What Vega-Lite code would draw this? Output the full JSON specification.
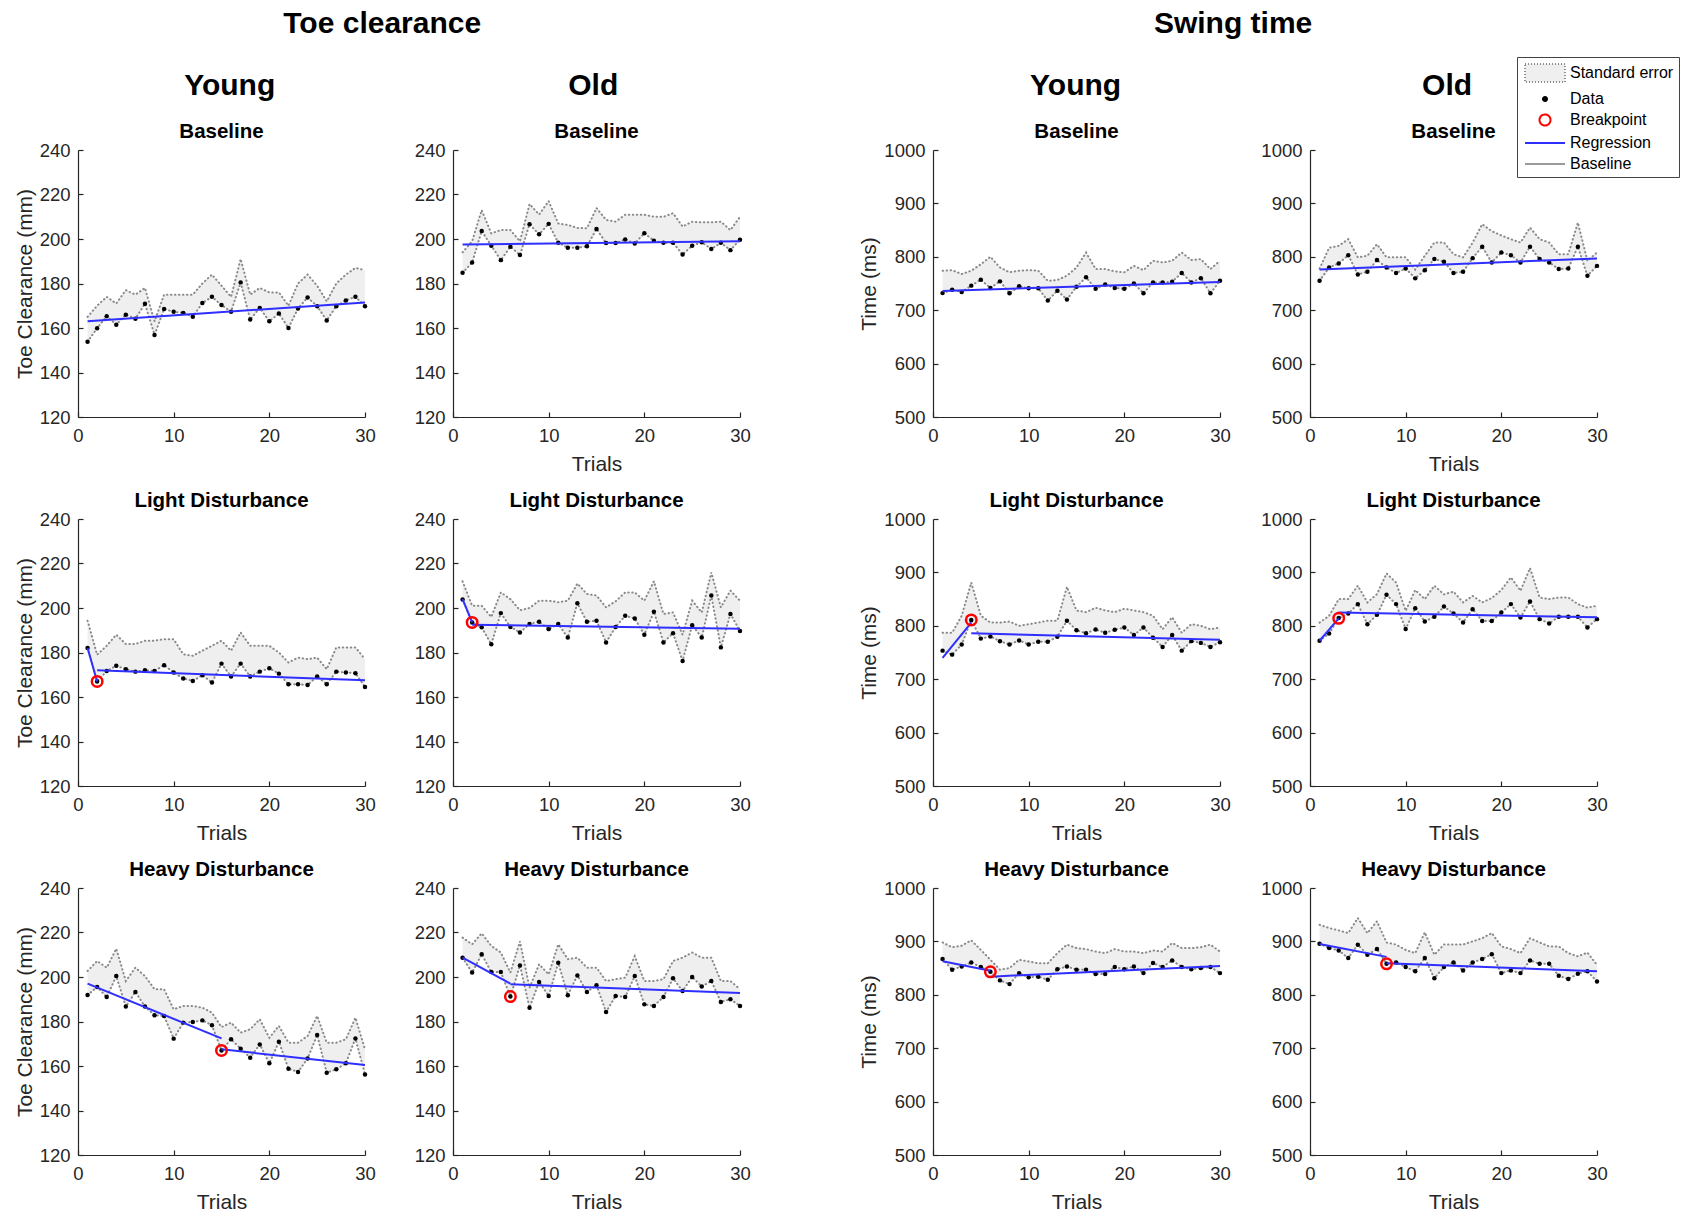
{
"$schema": "https://vega.github.io/schema/vega-lite/v6.json",
"padding": {"left": 14, "top": 8, "right": 0, "bottom": 0},
"background": "white",
"config": {
  "font": "Liberation Sans",
  "view": {"stroke": null},
  "axis": {"grid": false, "domainColor": "#262626", "domainWidth": 1.2, "tickColor": "#262626", "tickWidth": 1.2, "tickSize": -5, "labelColor": "#262626", "labelFontSize": 18.5, "labelFont": "Liberation Sans", "titleFont": "Liberation Sans", "titleFontSize": 21, "titleFontWeight": "normal", "titleColor": "#262626", "labelFlush": false, "labelOverlap": false},
  "axisX": {"labelPadding": 14, "titlePadding": 9},
  "axisY": {"labelPadding": 13, "titlePadding": 4},
  "title": {"font": "Liberation Sans", "fontSize": 20.5, "fontWeight": "bold", "color": "#000000", "offset": -1, "frame": "group", "anchor": "middle"}
},
"datasets": {
"obs": [
{"p":"TYB","t":1,"v":153.8,"u":165},{"p":"TYB","t":2,"v":159.9,"u":170},{"p":"TYB","t":3,"v":165.3,"u":174},{"p":"TYB","t":4,"v":161.5,"u":171},{"p":"TYB","t":5,"v":166,"u":177},{"p":"TYB","t":6,"v":164.2,"u":175},{"p":"TYB","t":7,"v":170.9,"u":178},{"p":"TYB","t":8,"v":156.9,"u":163},{"p":"TYB","t":9,"v":168.5,"u":175},{"p":"TYB","t":10,"v":167.3,"u":175},{"p":"TYB","t":11,"v":166.8,"u":175},{"p":"TYB","t":12,"v":165.1,"u":175},{"p":"TYB","t":13,"v":171.2,"u":180},{"p":"TYB","t":14,"v":174,"u":184},{"p":"TYB","t":15,"v":170.3,"u":179},{"p":"TYB","t":16,"v":167.3,"u":174},{"p":"TYB","t":17,"v":180.5,"u":191},{"p":"TYB","t":18,"v":163.8,"u":175},{"p":"TYB","t":19,"v":169,"u":178},{"p":"TYB","t":20,"v":163,"u":176},{"p":"TYB","t":21,"v":166.5,"u":176},{"p":"TYB","t":22,"v":160,"u":170},{"p":"TYB","t":23,"v":168.8,"u":180},{"p":"TYB","t":24,"v":173.7,"u":184},{"p":"TYB","t":25,"v":169.8,"u":179},{"p":"TYB","t":26,"v":163.4,"u":172},{"p":"TYB","t":27,"v":169.8,"u":180},{"p":"TYB","t":28,"v":172.4,"u":184},{"p":"TYB","t":29,"v":174,"u":187},{"p":"TYB","t":30,"v":169.8,"u":186},
{"p":"TOB","t":1,"v":184.8,"u":194},{"p":"TOB","t":2,"v":189.4,"u":199},{"p":"TOB","t":3,"v":203.6,"u":213},{"p":"TOB","t":4,"v":197,"u":202.5},{"p":"TOB","t":5,"v":190.5,"u":204},{"p":"TOB","t":6,"v":196.5,"u":204},{"p":"TOB","t":7,"v":192.8,"u":199},{"p":"TOB","t":8,"v":206.6,"u":215.7},{"p":"TOB","t":9,"v":202.1,"u":211},{"p":"TOB","t":10,"v":206.8,"u":217},{"p":"TOB","t":11,"v":198.3,"u":207},{"p":"TOB","t":12,"v":196.1,"u":206.3},{"p":"TOB","t":13,"v":196.1,"u":205},{"p":"TOB","t":14,"v":196.7,"u":204.8},{"p":"TOB","t":15,"v":204.5,"u":213.9},{"p":"TOB","t":16,"v":198.2,"u":208.6},{"p":"TOB","t":17,"v":198.2,"u":207.8},{"p":"TOB","t":18,"v":199.8,"u":210.9},{"p":"TOB","t":19,"v":198,"u":210.9},{"p":"TOB","t":20,"v":202.6,"u":210.9},{"p":"TOB","t":21,"v":199.2,"u":210},{"p":"TOB","t":22,"v":198.3,"u":210},{"p":"TOB","t":23,"v":198.3,"u":211.6},{"p":"TOB","t":24,"v":193,"u":205.6},{"p":"TOB","t":25,"v":197,"u":207.8},{"p":"TOB","t":26,"v":198.5,"u":207.5},{"p":"TOB","t":27,"v":195.5,"u":207.5},{"p":"TOB","t":28,"v":198.3,"u":207.8},{"p":"TOB","t":29,"v":195,"u":204},{"p":"TOB","t":30,"v":199.7,"u":210},
{"p":"TYL","t":1,"v":182,"u":194.3},{"p":"TYL","t":2,"v":167,"u":179},{"p":"TYL","t":3,"v":171.7,"u":183},{"p":"TYL","t":4,"v":174,"u":188},{"p":"TYL","t":5,"v":172.5,"u":183.8},{"p":"TYL","t":6,"v":171.4,"u":183.8},{"p":"TYL","t":7,"v":172,"u":185.3},{"p":"TYL","t":8,"v":171.7,"u":185.3},{"p":"TYL","t":9,"v":174.3,"u":186},{"p":"TYL","t":10,"v":171,"u":186},{"p":"TYL","t":11,"v":168.3,"u":179.2},{"p":"TYL","t":12,"v":167.2,"u":178.5},{"p":"TYL","t":13,"v":169.8,"u":180.8},{"p":"TYL","t":14,"v":166.5,"u":183},{"p":"TYL","t":15,"v":175,"u":185.3},{"p":"TYL","t":16,"v":169.2,"u":180.8},{"p":"TYL","t":17,"v":175,"u":189},{"p":"TYL","t":18,"v":169.2,"u":183},{"p":"TYL","t":19,"v":171.4,"u":183},{"p":"TYL","t":20,"v":172.9,"u":183},{"p":"TYL","t":21,"v":170.5,"u":180},{"p":"TYL","t":22,"v":165.7,"u":175.5},{"p":"TYL","t":23,"v":165.7,"u":177.7},{"p":"TYL","t":24,"v":165.4,"u":177},{"p":"TYL","t":25,"v":169.2,"u":177.7},{"p":"TYL","t":26,"v":165.7,"u":172.5},{"p":"TYL","t":27,"v":171.4,"u":182.3},{"p":"TYL","t":28,"v":171,"u":182.3},{"p":"TYL","t":29,"v":170.7,"u":182.3},{"p":"TYL","t":30,"v":164.5,"u":177},
{"p":"TOL","t":1,"v":203.8,"u":212},{"p":"TOL","t":2,"v":193.5,"u":201},{"p":"TOL","t":3,"v":191.3,"u":201},{"p":"TOL","t":4,"v":183.7,"u":196},{"p":"TOL","t":5,"v":197.7,"u":207},{"p":"TOL","t":6,"v":191.5,"u":204},{"p":"TOL","t":7,"v":189,"u":199},{"p":"TOL","t":8,"v":192.8,"u":200},{"p":"TOL","t":9,"v":193.8,"u":203.3},{"p":"TOL","t":10,"v":190.5,"u":203.3},{"p":"TOL","t":11,"v":192.8,"u":202.6},{"p":"TOL","t":12,"v":186.7,"u":203.3},{"p":"TOL","t":13,"v":202.1,"u":211},{"p":"TOL","t":14,"v":193.8,"u":206.3},{"p":"TOL","t":15,"v":194.3,"u":205.6},{"p":"TOL","t":16,"v":184.5,"u":200.3},{"p":"TOL","t":17,"v":191.5,"u":203},{"p":"TOL","t":18,"v":196.5,"u":207},{"p":"TOL","t":19,"v":195.3,"u":207},{"p":"TOL","t":20,"v":188,"u":203.3},{"p":"TOL","t":21,"v":198.3,"u":212},{"p":"TOL","t":22,"v":184.5,"u":197.3},{"p":"TOL","t":23,"v":188.7,"u":198},{"p":"TOL","t":24,"v":176.2,"u":188},{"p":"TOL","t":25,"v":192.3,"u":203.3},{"p":"TOL","t":26,"v":186.7,"u":198},{"p":"TOL","t":27,"v":205.6,"u":216},{"p":"TOL","t":28,"v":182.3,"u":200.3},{"p":"TOL","t":29,"v":197.3,"u":207.8},{"p":"TOL","t":30,"v":189.7,"u":203.3},
{"p":"TYH","t":1,"v":191.9,"u":202.7},{"p":"TYH","t":2,"v":195.5,"u":207.2},{"p":"TYH","t":3,"v":191,"u":204.2},{"p":"TYH","t":4,"v":200.4,"u":212.7},{"p":"TYH","t":5,"v":186.7,"u":198.2},{"p":"TYH","t":6,"v":193.3,"u":204.2},{"p":"TYH","t":7,"v":186.7,"u":200.4},{"p":"TYH","t":8,"v":182.8,"u":194.5},{"p":"TYH","t":9,"v":182.5,"u":194.5},{"p":"TYH","t":10,"v":172.3,"u":185.5},{"p":"TYH","t":11,"v":179.5,"u":187},{"p":"TYH","t":12,"v":179.8,"u":187},{"p":"TYH","t":13,"v":180.5,"u":186.2},{"p":"TYH","t":14,"v":178.3,"u":184},{"p":"TYH","t":15,"v":167,"u":177.5},{"p":"TYH","t":16,"v":172,"u":179.5},{"p":"TYH","t":17,"v":167.8,"u":175},{"p":"TYH","t":18,"v":163.7,"u":176.5},{"p":"TYH","t":19,"v":169.7,"u":181},{"p":"TYH","t":20,"v":161.2,"u":172.7},{"p":"TYH","t":21,"v":170.9,"u":178},{"p":"TYH","t":22,"v":158.8,"u":170.5},{"p":"TYH","t":23,"v":157.3,"u":170.5},{"p":"TYH","t":24,"v":163.4,"u":173.5},{"p":"TYH","t":25,"v":173.9,"u":182.5},{"p":"TYH","t":26,"v":157,"u":170.5},{"p":"TYH","t":27,"v":158.5,"u":170.5},{"p":"TYH","t":28,"v":161.2,"u":172},{"p":"TYH","t":29,"v":172.4,"u":181.7},{"p":"TYH","t":30,"v":156.2,"u":167.5},
{"p":"TOH","t":1,"v":208.7,"u":217.7},{"p":"TOH","t":2,"v":202,"u":214.7},{"p":"TOH","t":3,"v":210.2,"u":219.6},{"p":"TOH","t":4,"v":202.2,"u":214},{"p":"TOH","t":5,"v":202.2,"u":211},{"p":"TOH","t":6,"v":191.2,"u":202},{"p":"TOH","t":7,"v":205.2,"u":216},{"p":"TOH","t":8,"v":186.2,"u":195.2},{"p":"TOH","t":9,"v":197.8,"u":205.7},{"p":"TOH","t":10,"v":191.5,"u":201.2},{"p":"TOH","t":11,"v":206.4,"u":214.7},{"p":"TOH","t":12,"v":191.8,"u":208},{"p":"TOH","t":13,"v":200.7,"u":208.7},{"p":"TOH","t":14,"v":193.3,"u":204.2},{"p":"TOH","t":15,"v":196.3,"u":204.2},{"p":"TOH","t":16,"v":184.3,"u":198.2},{"p":"TOH","t":17,"v":191.5,"u":199},{"p":"TOH","t":18,"v":191,"u":199.7},{"p":"TOH","t":19,"v":200.4,"u":209.4},{"p":"TOH","t":20,"v":187.7,"u":198.2},{"p":"TOH","t":21,"v":187,"u":198.2},{"p":"TOH","t":22,"v":191,"u":199},{"p":"TOH","t":23,"v":199.4,"u":207.2},{"p":"TOH","t":24,"v":193.7,"u":208.7},{"p":"TOH","t":25,"v":200,"u":211},{"p":"TOH","t":26,"v":195.7,"u":208.7},{"p":"TOH","t":27,"v":198.2,"u":208.7},{"p":"TOH","t":28,"v":188.8,"u":198.2},{"p":"TOH","t":29,"v":190,"u":198.2},{"p":"TOH","t":30,"v":187,"u":194.5},
{"p":"SYB","t":1,"v":732,"u":774},{"p":"SYB","t":2,"v":738.5,"u":775},{"p":"SYB","t":3,"v":734,"u":767.7},{"p":"SYB","t":4,"v":746,"u":774},{"p":"SYB","t":5,"v":757,"u":786},{"p":"SYB","t":6,"v":741.6,"u":800},{"p":"SYB","t":7,"v":754,"u":780},{"p":"SYB","t":8,"v":731.7,"u":771},{"p":"SYB","t":9,"v":744.7,"u":774},{"p":"SYB","t":10,"v":741,"u":775},{"p":"SYB","t":11,"v":741,"u":774},{"p":"SYB","t":12,"v":718,"u":755},{"p":"SYB","t":13,"v":736.6,"u":756.5},{"p":"SYB","t":14,"v":720,"u":764.6},{"p":"SYB","t":15,"v":744,"u":780},{"p":"SYB","t":16,"v":761.5,"u":808},{"p":"SYB","t":17,"v":740,"u":777},{"p":"SYB","t":18,"v":748,"u":777},{"p":"SYB","t":19,"v":741.6,"u":772.7},{"p":"SYB","t":20,"v":740,"u":771},{"p":"SYB","t":21,"v":750,"u":783},{"p":"SYB","t":22,"v":731.7,"u":775},{"p":"SYB","t":23,"v":752,"u":792.5},{"p":"SYB","t":24,"v":752,"u":789.4},{"p":"SYB","t":25,"v":753.4,"u":792.5},{"p":"SYB","t":26,"v":769.6,"u":808},{"p":"SYB","t":27,"v":752,"u":793.8},{"p":"SYB","t":28,"v":760,"u":795.7},{"p":"SYB","t":29,"v":731.7,"u":777},{"p":"SYB","t":30,"v":755,"u":792.5},
{"p":"SOB","t":1,"v":755,"u":778},{"p":"SOB","t":2,"v":780,"u":817},{"p":"SOB","t":3,"v":787.6,"u":820.5},{"p":"SOB","t":4,"v":803,"u":833},{"p":"SOB","t":5,"v":767,"u":799},{"p":"SOB","t":6,"v":772,"u":802},{"p":"SOB","t":7,"v":793.8,"u":823.6},{"p":"SOB","t":8,"v":780,"u":799},{"p":"SOB","t":9,"v":769.6,"u":799},{"p":"SOB","t":10,"v":778,"u":799},{"p":"SOB","t":11,"v":759.6,"u":776},{"p":"SOB","t":12,"v":775,"u":802},{"p":"SOB","t":13,"v":795.7,"u":826.7},{"p":"SOB","t":14,"v":790.7,"u":826.7},{"p":"SOB","t":15,"v":769.6,"u":805},{"p":"SOB","t":16,"v":772,"u":799},{"p":"SOB","t":17,"v":797.5,"u":826.7},{"p":"SOB","t":18,"v":819,"u":861},{"p":"SOB","t":19,"v":789.4,"u":848},{"p":"SOB","t":20,"v":808,"u":840},{"p":"SOB","t":21,"v":803,"u":833},{"p":"SOB","t":22,"v":789.4,"u":826.7},{"p":"SOB","t":23,"v":819,"u":854.7},{"p":"SOB","t":24,"v":795.7,"u":833},{"p":"SOB","t":25,"v":789.4,"u":826.7},{"p":"SOB","t":26,"v":777,"u":805},{"p":"SOB","t":27,"v":778,"u":805},{"p":"SOB","t":28,"v":819,"u":864},{"p":"SOB","t":29,"v":764.6,"u":792.5},{"p":"SOB","t":30,"v":783,"u":808},
{"p":"SYL","t":1,"v":753.5,"u":787},{"p":"SYL","t":2,"v":746,"u":787},{"p":"SYL","t":3,"v":765,"u":819},{"p":"SYL","t":4,"v":811,"u":881},{"p":"SYL","t":5,"v":776,"u":819},{"p":"SYL","t":6,"v":780,"u":806},{"p":"SYL","t":7,"v":771,"u":806},{"p":"SYL","t":8,"v":765,"u":808},{"p":"SYL","t":9,"v":772.6,"u":800},{"p":"SYL","t":10,"v":765,"u":803},{"p":"SYL","t":11,"v":770,"u":806},{"p":"SYL","t":12,"v":770,"u":809.6},{"p":"SYL","t":13,"v":779.6,"u":809.6},{"p":"SYL","t":14,"v":809.6,"u":873},{"p":"SYL","t":15,"v":791.7,"u":828.7},{"p":"SYL","t":16,"v":786,"u":825.5},{"p":"SYL","t":17,"v":793,"u":833.8},{"p":"SYL","t":18,"v":787,"u":828.7},{"p":"SYL","t":19,"v":792.4,"u":825.5},{"p":"SYL","t":20,"v":796.8,"u":832},{"p":"SYL","t":21,"v":782.8,"u":828.7},{"p":"SYL","t":22,"v":796.8,"u":825.5},{"p":"SYL","t":23,"v":777.7,"u":819},{"p":"SYL","t":24,"v":760.5,"u":793.6},{"p":"SYL","t":25,"v":782.8,"u":816},{"p":"SYL","t":26,"v":753.5,"u":787},{"p":"SYL","t":27,"v":771.3,"u":803},{"p":"SYL","t":28,"v":768,"u":800},{"p":"SYL","t":29,"v":760.5,"u":793.6},{"p":"SYL","t":30,"v":769.4,"u":796.8},
{"p":"SOL","t":1,"v":772,"u":806},{"p":"SOL","t":2,"v":785.6,"u":818.8},{"p":"SOL","t":3,"v":814.4,"u":850},{"p":"SOL","t":4,"v":823,"u":850},{"p":"SOL","t":5,"v":840.6,"u":875},{"p":"SOL","t":6,"v":803,"u":843.8},{"p":"SOL","t":7,"v":820.6,"u":859.4},{"p":"SOL","t":8,"v":858,"u":898},{"p":"SOL","t":9,"v":840.6,"u":881},{"p":"SOL","t":10,"v":793.8,"u":828},{"p":"SOL","t":11,"v":833,"u":867},{"p":"SOL","t":12,"v":808,"u":850},{"p":"SOL","t":13,"v":817,"u":875},{"p":"SOL","t":14,"v":836,"u":859},{"p":"SOL","t":15,"v":823,"u":864},{"p":"SOL","t":16,"v":806,"u":843.8},{"p":"SOL","t":17,"v":831,"u":856},{"p":"SOL","t":18,"v":809,"u":843.8},{"p":"SOL","t":19,"v":809,"u":852},{"p":"SOL","t":20,"v":825,"u":867},{"p":"SOL","t":21,"v":840.6,"u":890.6},{"p":"SOL","t":22,"v":815.6,"u":865.6},{"p":"SOL","t":23,"v":845.6,"u":908},{"p":"SOL","t":24,"v":812.5,"u":853},{"p":"SOL","t":25,"v":804.4,"u":850},{"p":"SOL","t":26,"v":817,"u":853},{"p":"SOL","t":27,"v":817,"u":853},{"p":"SOL","t":28,"v":817,"u":840.6},{"p":"SOL","t":29,"v":797,"u":834},{"p":"SOL","t":30,"v":812.5,"u":837.5},
{"p":"SYH","t":1,"v":867,"u":898},{"p":"SYH","t":2,"v":847,"u":889},{"p":"SYH","t":3,"v":853,"u":892},{"p":"SYH","t":4,"v":860.6,"u":902},{"p":"SYH","t":5,"v":852,"u":884},{"p":"SYH","t":6,"v":843,"u":865.6},{"p":"SYH","t":7,"v":827,"u":847},{"p":"SYH","t":8,"v":820,"u":850},{"p":"SYH","t":9,"v":840.6,"u":865.6},{"p":"SYH","t":10,"v":833,"u":862.5},{"p":"SYH","t":11,"v":834,"u":859},{"p":"SYH","t":12,"v":828,"u":859},{"p":"SYH","t":13,"v":848,"u":878},{"p":"SYH","t":14,"v":853,"u":894},{"p":"SYH","t":15,"v":847,"u":887.5},{"p":"SYH","t":16,"v":847,"u":885.6},{"p":"SYH","t":17,"v":839,"u":881},{"p":"SYH","t":18,"v":839,"u":878},{"p":"SYH","t":19,"v":852,"u":885.6},{"p":"SYH","t":20,"v":848,"u":881},{"p":"SYH","t":21,"v":853,"u":881},{"p":"SYH","t":22,"v":840.6,"u":878},{"p":"SYH","t":23,"v":859.4,"u":883},{"p":"SYH","t":24,"v":852,"u":881},{"p":"SYH","t":25,"v":864.4,"u":897},{"p":"SYH","t":26,"v":852,"u":887.5},{"p":"SYH","t":27,"v":848,"u":887.5},{"p":"SYH","t":28,"v":850,"u":889},{"p":"SYH","t":29,"v":852,"u":894},{"p":"SYH","t":30,"v":840.6,"u":881},
{"p":"SOH","t":1,"v":895.6,"u":931},{"p":"SOH","t":2,"v":887.5,"u":925},{"p":"SOH","t":3,"v":883,"u":920.6},{"p":"SOH","t":4,"v":868.8,"u":915.6},{"p":"SOH","t":5,"v":893.8,"u":943.8},{"p":"SOH","t":6,"v":875,"u":915.6},{"p":"SOH","t":7,"v":885.6,"u":937.5},{"p":"SOH","t":8,"v":858,"u":898},{"p":"SOH","t":9,"v":860.6,"u":894},{"p":"SOH","t":10,"v":852,"u":884},{"p":"SOH","t":11,"v":844,"u":878},{"p":"SOH","t":12,"v":868.8,"u":917},{"p":"SOH","t":13,"v":831,"u":875},{"p":"SOH","t":14,"v":852,"u":894},{"p":"SOH","t":15,"v":860.6,"u":894},{"p":"SOH","t":16,"v":845.6,"u":894},{"p":"SOH","t":17,"v":860.6,"u":900},{"p":"SOH","t":18,"v":867,"u":906},{"p":"SOH","t":19,"v":876,"u":915.6},{"p":"SOH","t":20,"v":840.6,"u":890.6},{"p":"SOH","t":21,"v":845.6,"u":885.6},{"p":"SOH","t":22,"v":840.6,"u":878},{"p":"SOH","t":23,"v":864.4,"u":906},{"p":"SOH","t":24,"v":858,"u":898},{"p":"SOH","t":25,"v":858,"u":890.6},{"p":"SOH","t":26,"v":835.6,"u":890.6},{"p":"SOH","t":27,"v":829.4,"u":878},{"p":"SOH","t":28,"v":839.4,"u":872},{"p":"SOH","t":29,"v":844,"u":879},{"p":"SOH","t":30,"v":825,"u":856}
],
"reg": [
{"p":"TYB","s":"a","t":1,"v":163},{"p":"TYB","s":"a","t":30,"v":171.5},
{"p":"TOB","s":"a","t":1,"v":197.5},{"p":"TOB","s":"a","t":30,"v":199},
{"p":"TYL","s":"a","t":1,"v":182},{"p":"TYL","s":"a","t":2,"v":167},{"p":"TYL","s":"b","t":2,"v":172},{"p":"TYL","s":"b","t":30,"v":167.5},
{"p":"TOL","s":"a","t":1,"v":204},{"p":"TOL","s":"a","t":2,"v":193.5},{"p":"TOL","s":"b","t":2,"v":192.5},{"p":"TOL","s":"b","t":30,"v":190.7},
{"p":"TYH","s":"a","t":1,"v":197},{"p":"TYH","s":"a","t":15,"v":172.4},{"p":"TYH","s":"b","t":15,"v":167.5},{"p":"TYH","s":"b","t":30,"v":160.4},
{"p":"TOH","s":"a","t":1,"v":208.7},{"p":"TOH","s":"a","t":6,"v":197},{"p":"TOH","s":"b","t":6,"v":196.7},{"p":"TOH","s":"b","t":30,"v":192.8},
{"p":"SYB","s":"a","t":1,"v":736},{"p":"SYB","s":"a","t":30,"v":753},
{"p":"SOB","s":"a","t":1,"v":776},{"p":"SOB","s":"a","t":30,"v":797},
{"p":"SYL","s":"a","t":1,"v":740},{"p":"SYL","s":"a","t":4,"v":806},{"p":"SYL","s":"b","t":4,"v":786},{"p":"SYL","s":"b","t":30,"v":774},
{"p":"SOL","s":"a","t":1,"v":772},{"p":"SOL","s":"a","t":3,"v":814},{"p":"SOL","s":"b","t":3,"v":825},{"p":"SOL","s":"b","t":30,"v":816},
{"p":"SYH","s":"a","t":1,"v":863},{"p":"SYH","s":"a","t":6,"v":845},{"p":"SYH","s":"b","t":6,"v":834},{"p":"SYH","s":"b","t":30,"v":854},
{"p":"SOH","s":"a","t":1,"v":895},{"p":"SOH","s":"a","t":8,"v":871},{"p":"SOH","s":"b","t":8,"v":859},{"p":"SOH","s":"b","t":30,"v":844}
],
"bp": [
{"p":"TYL","t":2,"v":167},{"p":"TOL","t":2,"v":193.5},{"p":"TYH","t":15,"v":167},{"p":"TOH","t":6,"v":191.2},
{"p":"SYL","t":4,"v":811},{"p":"SOL","t":3,"v":814},{"p":"SYH","t":6,"v":843},{"p":"SOH","t":8,"v":858}
],
"base": [
{"p":"TYB","v":167},{"p":"TOB","v":198},{"p":"TYL","v":167},{"p":"TOL","v":198},{"p":"TYH","v":167},{"p":"TOH","v":198},
{"p":"SYB","v":744},{"p":"SOB","v":786},{"p":"SYL","v":744},{"p":"SOL","v":786},{"p":"SYH","v":744},{"p":"SOH","v":786}
],
"leg": [
{"item":"Standard error","t":-5,"v":600},{"item":"Data","t":-5,"v":600},{"item":"Breakpoint","t":-5,"v":600},{"item":"Regression","t":-5,"v":600},{"item":"Baseline","t":-5,"v":600}
]
},
"spacing": 107,
"hconcat": [
{
"title": {"text": "Toe clearance", "fontSize": 30, "anchor": "middle", "frame": "bounds", "offset": 32},
"spacing": 38,
"hconcat": [
{
"title": {"text": "Young", "fontSize": 30, "anchor": "middle", "frame": "bounds", "offset": 21, "dx": 35},
"spacing": 15,
"vconcat": [
{"width":287,"height":267,"title":{"text":"Baseline"},"data":{"name":"obs"},"transform":[{"filter":"datum.p==='TYB'"}],
"encoding":{"x":{"field":"t","type":"quantitative","scale":{"domain":[0,30]},"axis":{"values":[0,10,20,30],"title":"Trials","titleOpacity":0}},"y":{"field":"v","type":"quantitative","scale":{"domain":[120,240]},"axis":{"values":[120,140,160,180,200,220,240],"title":"Toe Clearance (mm)"}}},
"layer":[
{"mark":{"type":"area","color":"#efefef"},"encoding":{"y2":{"field":"u"}}},
{"mark":{"type":"line","color":"#8a8a8a","strokeWidth":2,"strokeDash":[0.5,3.5],"strokeCap":"round"},"encoding":{"y":{"field":"u","type":"quantitative"}}},
{"mark":{"type":"line","color":"#8a8a8a","strokeWidth":2,"strokeDash":[0.5,3.5],"strokeCap":"round"}},
{"data":{"name":"base"},"transform":[{"filter":"datum.p==='TYB'"}],"mark":{"type":"rule","color":"#9a9a9a","strokeWidth":1.8},"encoding":{"x":{"datum":0},"x2":{"datum":30}}},
{"mark":{"type":"point","filled":true,"color":"#000000","size":20,"opacity":1}},
{"data":{"name":"reg"},"transform":[{"filter":"datum.p==='TYB'"}],"mark":{"type":"line","color":"#2f2fff","strokeWidth":2},"encoding":{"detail":{"field":"s","type":"nominal"}}},
{"data":{"name":"leg"},"mark":{"type":"point","clip":true,"filled":true,"opacity":1,"strokeWidth":2},
"encoding":{
"shape":{"field":"item","type":"nominal","scale":{"domain":["Standard error","Data","Breakpoint","Regression","Baseline"],"range":["M-2,-0.9H2V0.9H-2Z","M-0.2,0A0.2,0.2,0,1,0,0.2,0A0.2,0.2,0,1,0,-0.2,0Z","M-0.55,0A0.55,0.55,0,1,0,0.55,0A0.55,0.55,0,1,0,-0.55,0Z","M-2,0H2","M-2,0H2"]},"legend":{"orient":"none","legendX":1439,"legendY":-93,"title":null,"labelFontSize":16,"labelColor":"#000000","labelFont":"Liberation Sans","strokeColor":"#444444","fillColor":"#ffffff","padding":5,"rowPadding":2,"symbolSize":400,"symbolStrokeWidth":2,"symbolOffset":12,"labelOffset":14}},
"fill":{"field":"item","type":"nominal","scale":{"domain":["Standard error","Data","Breakpoint","Regression","Baseline"],"range":["#efefef","#000000","#ffffff","#ffffff","#ffffff"]},"legend":{"orient":"none","legendX":1439,"legendY":-93,"title":null,"labelFontSize":16,"labelColor":"#000000","labelFont":"Liberation Sans","strokeColor":"#444444","fillColor":"#ffffff","padding":5,"rowPadding":2,"symbolSize":400,"symbolStrokeWidth":2,"symbolOffset":12,"labelOffset":14}},
"stroke":{"field":"item","type":"nominal","scale":{"domain":["Standard error","Data","Breakpoint","Regression","Baseline"],"range":["#8a8a8a","#000000","#ff0000","#2f2fff","#9a9a9a"]},"legend":{"orient":"none","legendX":1439,"legendY":-93,"title":null,"labelFontSize":16,"labelColor":"#000000","labelFont":"Liberation Sans","strokeColor":"#444444","fillColor":"#ffffff","padding":5,"rowPadding":2,"symbolSize":400,"symbolStrokeWidth":2,"symbolOffset":12,"labelOffset":14}},
"strokeDash":{"field":"item","type":"nominal","scale":{"domain":["Standard error","Data","Breakpoint","Regression","Baseline"],"range":[[1,2],[1,0],[1,0],[1,0],[1,0]]},"legend":{"orient":"none","legendX":1439,"legendY":-93,"title":null,"labelFontSize":16,"labelColor":"#000000","labelFont":"Liberation Sans","strokeColor":"#444444","fillColor":"#ffffff","padding":5,"rowPadding":2,"symbolSize":400,"symbolStrokeWidth":2,"symbolOffset":12,"labelOffset":14}}
}}
]},
{"width":287,"height":267,"title":{"text":"Light Disturbance"},"data":{"name":"obs"},"transform":[{"filter":"datum.p==='TYL'"}],
"encoding":{"x":{"field":"t","type":"quantitative","scale":{"domain":[0,30]},"axis":{"values":[0,10,20,30],"title":"Trials"}},"y":{"field":"v","type":"quantitative","scale":{"domain":[120,240]},"axis":{"values":[120,140,160,180,200,220,240],"title":"Toe Clearance (mm)"}}},
"layer":[
{"mark":{"type":"area","color":"#efefef"},"encoding":{"y2":{"field":"u"}}},
{"mark":{"type":"line","color":"#8a8a8a","strokeWidth":2,"strokeDash":[0.5,3.5],"strokeCap":"round"},"encoding":{"y":{"field":"u","type":"quantitative"}}},
{"mark":{"type":"line","color":"#8a8a8a","strokeWidth":2,"strokeDash":[0.5,3.5],"strokeCap":"round"}},
{"data":{"name":"base"},"transform":[{"filter":"datum.p==='TYL'"}],"mark":{"type":"rule","color":"#9a9a9a","strokeWidth":1.8},"encoding":{"x":{"datum":0},"x2":{"datum":30}}},
{"mark":{"type":"point","filled":true,"color":"#000000","size":20,"opacity":1}},
{"data":{"name":"reg"},"transform":[{"filter":"datum.p==='TYL'"}],"mark":{"type":"line","color":"#2f2fff","strokeWidth":2},"encoding":{"detail":{"field":"s","type":"nominal"}}},
{"data":{"name":"bp"},"transform":[{"filter":"datum.p==='TYL'"}],"mark":{"type":"point","shape":"circle","filled":false,"color":"#ff0000","strokeWidth":2.5,"size":110,"opacity":1}}
]},
{"width":287,"height":267,"title":{"text":"Heavy Disturbance"},"data":{"name":"obs"},"transform":[{"filter":"datum.p==='TYH'"}],
"encoding":{"x":{"field":"t","type":"quantitative","scale":{"domain":[0,30]},"axis":{"values":[0,10,20,30],"title":"Trials"}},"y":{"field":"v","type":"quantitative","scale":{"domain":[120,240]},"axis":{"values":[120,140,160,180,200,220,240],"title":"Toe Clearance (mm)"}}},
"layer":[
{"mark":{"type":"area","color":"#efefef"},"encoding":{"y2":{"field":"u"}}},
{"mark":{"type":"line","color":"#8a8a8a","strokeWidth":2,"strokeDash":[0.5,3.5],"strokeCap":"round"},"encoding":{"y":{"field":"u","type":"quantitative"}}},
{"mark":{"type":"line","color":"#8a8a8a","strokeWidth":2,"strokeDash":[0.5,3.5],"strokeCap":"round"}},
{"data":{"name":"base"},"transform":[{"filter":"datum.p==='TYH'"}],"mark":{"type":"rule","color":"#9a9a9a","strokeWidth":1.8},"encoding":{"x":{"datum":0},"x2":{"datum":30}}},
{"mark":{"type":"point","filled":true,"color":"#000000","size":20,"opacity":1}},
{"data":{"name":"reg"},"transform":[{"filter":"datum.p==='TYH'"}],"mark":{"type":"line","color":"#2f2fff","strokeWidth":2},"encoding":{"detail":{"field":"s","type":"nominal"}}},
{"data":{"name":"bp"},"transform":[{"filter":"datum.p==='TYH'"}],"mark":{"type":"point","shape":"circle","filled":false,"color":"#ff0000","strokeWidth":2.5,"size":110,"opacity":1}}
]}
]
},
{
"title": {"text": "Old", "fontSize": 30, "anchor": "middle", "frame": "bounds", "offset": 21, "dx": 11},
"spacing": 15,
"vconcat": [
{"width":287,"height":267,"title":{"text":"Baseline"},"data":{"name":"obs"},"transform":[{"filter":"datum.p==='TOB'"}],
"encoding":{"x":{"field":"t","type":"quantitative","scale":{"domain":[0,30]},"axis":{"values":[0,10,20,30],"title":"Trials"}},"y":{"field":"v","type":"quantitative","scale":{"domain":[120,240]},"axis":{"values":[120,140,160,180,200,220,240],"title":null}}},
"layer":[
{"mark":{"type":"area","color":"#efefef"},"encoding":{"y2":{"field":"u"}}},
{"mark":{"type":"line","color":"#8a8a8a","strokeWidth":2,"strokeDash":[0.5,3.5],"strokeCap":"round"},"encoding":{"y":{"field":"u","type":"quantitative"}}},
{"mark":{"type":"line","color":"#8a8a8a","strokeWidth":2,"strokeDash":[0.5,3.5],"strokeCap":"round"}},
{"data":{"name":"base"},"transform":[{"filter":"datum.p==='TOB'"}],"mark":{"type":"rule","color":"#9a9a9a","strokeWidth":1.8},"encoding":{"x":{"datum":0},"x2":{"datum":30}}},
{"mark":{"type":"point","filled":true,"color":"#000000","size":20,"opacity":1}},
{"data":{"name":"reg"},"transform":[{"filter":"datum.p==='TOB'"}],"mark":{"type":"line","color":"#2f2fff","strokeWidth":2},"encoding":{"detail":{"field":"s","type":"nominal"}}}
]},
{"width":287,"height":267,"title":{"text":"Light Disturbance"},"data":{"name":"obs"},"transform":[{"filter":"datum.p==='TOL'"}],
"encoding":{"x":{"field":"t","type":"quantitative","scale":{"domain":[0,30]},"axis":{"values":[0,10,20,30],"title":"Trials"}},"y":{"field":"v","type":"quantitative","scale":{"domain":[120,240]},"axis":{"values":[120,140,160,180,200,220,240],"title":null}}},
"layer":[
{"mark":{"type":"area","color":"#efefef"},"encoding":{"y2":{"field":"u"}}},
{"mark":{"type":"line","color":"#8a8a8a","strokeWidth":2,"strokeDash":[0.5,3.5],"strokeCap":"round"},"encoding":{"y":{"field":"u","type":"quantitative"}}},
{"mark":{"type":"line","color":"#8a8a8a","strokeWidth":2,"strokeDash":[0.5,3.5],"strokeCap":"round"}},
{"data":{"name":"base"},"transform":[{"filter":"datum.p==='TOL'"}],"mark":{"type":"rule","color":"#9a9a9a","strokeWidth":1.8},"encoding":{"x":{"datum":0},"x2":{"datum":30}}},
{"mark":{"type":"point","filled":true,"color":"#000000","size":20,"opacity":1}},
{"data":{"name":"reg"},"transform":[{"filter":"datum.p==='TOL'"}],"mark":{"type":"line","color":"#2f2fff","strokeWidth":2},"encoding":{"detail":{"field":"s","type":"nominal"}}},
{"data":{"name":"bp"},"transform":[{"filter":"datum.p==='TOL'"}],"mark":{"type":"point","shape":"circle","filled":false,"color":"#ff0000","strokeWidth":2.5,"size":110,"opacity":1}}
]},
{"width":287,"height":267,"title":{"text":"Heavy Disturbance"},"data":{"name":"obs"},"transform":[{"filter":"datum.p==='TOH'"}],
"encoding":{"x":{"field":"t","type":"quantitative","scale":{"domain":[0,30]},"axis":{"values":[0,10,20,30],"title":"Trials"}},"y":{"field":"v","type":"quantitative","scale":{"domain":[120,240]},"axis":{"values":[120,140,160,180,200,220,240],"title":null}}},
"layer":[
{"mark":{"type":"area","color":"#efefef"},"encoding":{"y2":{"field":"u"}}},
{"mark":{"type":"line","color":"#8a8a8a","strokeWidth":2,"strokeDash":[0.5,3.5],"strokeCap":"round"},"encoding":{"y":{"field":"u","type":"quantitative"}}},
{"mark":{"type":"line","color":"#8a8a8a","strokeWidth":2,"strokeDash":[0.5,3.5],"strokeCap":"round"}},
{"data":{"name":"base"},"transform":[{"filter":"datum.p==='TOH'"}],"mark":{"type":"rule","color":"#9a9a9a","strokeWidth":1.8},"encoding":{"x":{"datum":0},"x2":{"datum":30}}},
{"mark":{"type":"point","filled":true,"color":"#000000","size":20,"opacity":1}},
{"data":{"name":"reg"},"transform":[{"filter":"datum.p==='TOH'"}],"mark":{"type":"line","color":"#2f2fff","strokeWidth":2},"encoding":{"detail":{"field":"s","type":"nominal"}}},
{"data":{"name":"bp"},"transform":[{"filter":"datum.p==='TOH'"}],"mark":{"type":"point","shape":"circle","filled":false,"color":"#ff0000","strokeWidth":2.5,"size":110,"opacity":1}}
]}
]
}
]
},
{
"title": {"text": "Swing time", "fontSize": 30, "anchor": "middle", "frame": "bounds", "offset": 32},
"spacing": 29,
"hconcat": [
{
"title": {"text": "Young", "fontSize": 30, "anchor": "middle", "frame": "bounds", "offset": 21, "dx": 31},
"spacing": 15,
"vconcat": [
{"width":287,"height":267,"title":{"text":"Baseline"},"data":{"name":"obs"},"transform":[{"filter":"datum.p==='SYB'"}],
"encoding":{"x":{"field":"t","type":"quantitative","scale":{"domain":[0,30]},"axis":{"values":[0,10,20,30],"title":"Trials","titleOpacity":0}},"y":{"field":"v","type":"quantitative","scale":{"domain":[500,1000]},"axis":{"values":[500,600,700,800,900,1000],"format":"d","title":"Time (ms)"}}},
"layer":[
{"mark":{"type":"area","color":"#efefef"},"encoding":{"y2":{"field":"u"}}},
{"mark":{"type":"line","color":"#8a8a8a","strokeWidth":2,"strokeDash":[0.5,3.5],"strokeCap":"round"},"encoding":{"y":{"field":"u","type":"quantitative"}}},
{"mark":{"type":"line","color":"#8a8a8a","strokeWidth":2,"strokeDash":[0.5,3.5],"strokeCap":"round"}},
{"data":{"name":"base"},"transform":[{"filter":"datum.p==='SYB'"}],"mark":{"type":"rule","color":"#9a9a9a","strokeWidth":1.8},"encoding":{"x":{"datum":0},"x2":{"datum":30}}},
{"mark":{"type":"point","filled":true,"color":"#000000","size":20,"opacity":1}},
{"data":{"name":"reg"},"transform":[{"filter":"datum.p==='SYB'"}],"mark":{"type":"line","color":"#2f2fff","strokeWidth":2},"encoding":{"detail":{"field":"s","type":"nominal"}}}
]},
{"width":287,"height":267,"title":{"text":"Light Disturbance"},"data":{"name":"obs"},"transform":[{"filter":"datum.p==='SYL'"}],
"encoding":{"x":{"field":"t","type":"quantitative","scale":{"domain":[0,30]},"axis":{"values":[0,10,20,30],"title":"Trials"}},"y":{"field":"v","type":"quantitative","scale":{"domain":[500,1000]},"axis":{"values":[500,600,700,800,900,1000],"format":"d","title":"Time (ms)"}}},
"layer":[
{"mark":{"type":"area","color":"#efefef"},"encoding":{"y2":{"field":"u"}}},
{"mark":{"type":"line","color":"#8a8a8a","strokeWidth":2,"strokeDash":[0.5,3.5],"strokeCap":"round"},"encoding":{"y":{"field":"u","type":"quantitative"}}},
{"mark":{"type":"line","color":"#8a8a8a","strokeWidth":2,"strokeDash":[0.5,3.5],"strokeCap":"round"}},
{"data":{"name":"base"},"transform":[{"filter":"datum.p==='SYL'"}],"mark":{"type":"rule","color":"#9a9a9a","strokeWidth":1.8},"encoding":{"x":{"datum":0},"x2":{"datum":30}}},
{"mark":{"type":"point","filled":true,"color":"#000000","size":20,"opacity":1}},
{"data":{"name":"reg"},"transform":[{"filter":"datum.p==='SYL'"}],"mark":{"type":"line","color":"#2f2fff","strokeWidth":2},"encoding":{"detail":{"field":"s","type":"nominal"}}},
{"data":{"name":"bp"},"transform":[{"filter":"datum.p==='SYL'"}],"mark":{"type":"point","shape":"circle","filled":false,"color":"#ff0000","strokeWidth":2.5,"size":110,"opacity":1}}
]},
{"width":287,"height":267,"title":{"text":"Heavy Disturbance"},"data":{"name":"obs"},"transform":[{"filter":"datum.p==='SYH'"}],
"encoding":{"x":{"field":"t","type":"quantitative","scale":{"domain":[0,30]},"axis":{"values":[0,10,20,30],"title":"Trials"}},"y":{"field":"v","type":"quantitative","scale":{"domain":[500,1000]},"axis":{"values":[500,600,700,800,900,1000],"format":"d","title":"Time (ms)"}}},
"layer":[
{"mark":{"type":"area","color":"#efefef"},"encoding":{"y2":{"field":"u"}}},
{"mark":{"type":"line","color":"#8a8a8a","strokeWidth":2,"strokeDash":[0.5,3.5],"strokeCap":"round"},"encoding":{"y":{"field":"u","type":"quantitative"}}},
{"mark":{"type":"line","color":"#8a8a8a","strokeWidth":2,"strokeDash":[0.5,3.5],"strokeCap":"round"}},
{"data":{"name":"base"},"transform":[{"filter":"datum.p==='SYH'"}],"mark":{"type":"rule","color":"#9a9a9a","strokeWidth":1.8},"encoding":{"x":{"datum":0},"x2":{"datum":30}}},
{"mark":{"type":"point","filled":true,"color":"#000000","size":20,"opacity":1}},
{"data":{"name":"reg"},"transform":[{"filter":"datum.p==='SYH'"}],"mark":{"type":"line","color":"#2f2fff","strokeWidth":2},"encoding":{"detail":{"field":"s","type":"nominal"}}},
{"data":{"name":"bp"},"transform":[{"filter":"datum.p==='SYH'"}],"mark":{"type":"point","shape":"circle","filled":false,"color":"#ff0000","strokeWidth":2.5,"size":110,"opacity":1}}
]}
]
},
{
"title": {"text": "Old", "fontSize": 30, "anchor": "middle", "frame": "bounds", "offset": 21, "dx": 13},
"spacing": 15,
"vconcat": [
{"width":287,"height":267,"title":{"text":"Baseline"},"data":{"name":"obs"},"transform":[{"filter":"datum.p==='SOB'"}],
"encoding":{"x":{"field":"t","type":"quantitative","scale":{"domain":[0,30]},"axis":{"values":[0,10,20,30],"title":"Trials"}},"y":{"field":"v","type":"quantitative","scale":{"domain":[500,1000]},"axis":{"values":[500,600,700,800,900,1000],"format":"d","title":null}}},
"layer":[
{"mark":{"type":"area","color":"#efefef"},"encoding":{"y2":{"field":"u"}}},
{"mark":{"type":"line","color":"#8a8a8a","strokeWidth":2,"strokeDash":[0.5,3.5],"strokeCap":"round"},"encoding":{"y":{"field":"u","type":"quantitative"}}},
{"mark":{"type":"line","color":"#8a8a8a","strokeWidth":2,"strokeDash":[0.5,3.5],"strokeCap":"round"}},
{"data":{"name":"base"},"transform":[{"filter":"datum.p==='SOB'"}],"mark":{"type":"rule","color":"#9a9a9a","strokeWidth":1.8},"encoding":{"x":{"datum":0},"x2":{"datum":30}}},
{"mark":{"type":"point","filled":true,"color":"#000000","size":20,"opacity":1}},
{"data":{"name":"reg"},"transform":[{"filter":"datum.p==='SOB'"}],"mark":{"type":"line","color":"#2f2fff","strokeWidth":2},"encoding":{"detail":{"field":"s","type":"nominal"}}}
]},
{"width":287,"height":267,"title":{"text":"Light Disturbance"},"data":{"name":"obs"},"transform":[{"filter":"datum.p==='SOL'"}],
"encoding":{"x":{"field":"t","type":"quantitative","scale":{"domain":[0,30]},"axis":{"values":[0,10,20,30],"title":"Trials"}},"y":{"field":"v","type":"quantitative","scale":{"domain":[500,1000]},"axis":{"values":[500,600,700,800,900,1000],"format":"d","title":null}}},
"layer":[
{"mark":{"type":"area","color":"#efefef"},"encoding":{"y2":{"field":"u"}}},
{"mark":{"type":"line","color":"#8a8a8a","strokeWidth":2,"strokeDash":[0.5,3.5],"strokeCap":"round"},"encoding":{"y":{"field":"u","type":"quantitative"}}},
{"mark":{"type":"line","color":"#8a8a8a","strokeWidth":2,"strokeDash":[0.5,3.5],"strokeCap":"round"}},
{"data":{"name":"base"},"transform":[{"filter":"datum.p==='SOL'"}],"mark":{"type":"rule","color":"#9a9a9a","strokeWidth":1.8},"encoding":{"x":{"datum":0},"x2":{"datum":30}}},
{"mark":{"type":"point","filled":true,"color":"#000000","size":20,"opacity":1}},
{"data":{"name":"reg"},"transform":[{"filter":"datum.p==='SOL'"}],"mark":{"type":"line","color":"#2f2fff","strokeWidth":2},"encoding":{"detail":{"field":"s","type":"nominal"}}},
{"data":{"name":"bp"},"transform":[{"filter":"datum.p==='SOL'"}],"mark":{"type":"point","shape":"circle","filled":false,"color":"#ff0000","strokeWidth":2.5,"size":110,"opacity":1}}
]},
{"width":287,"height":267,"title":{"text":"Heavy Disturbance"},"data":{"name":"obs"},"transform":[{"filter":"datum.p==='SOH'"}],
"encoding":{"x":{"field":"t","type":"quantitative","scale":{"domain":[0,30]},"axis":{"values":[0,10,20,30],"title":"Trials"}},"y":{"field":"v","type":"quantitative","scale":{"domain":[500,1000]},"axis":{"values":[500,600,700,800,900,1000],"format":"d","title":null}}},
"layer":[
{"mark":{"type":"area","color":"#efefef"},"encoding":{"y2":{"field":"u"}}},
{"mark":{"type":"line","color":"#8a8a8a","strokeWidth":2,"strokeDash":[0.5,3.5],"strokeCap":"round"},"encoding":{"y":{"field":"u","type":"quantitative"}}},
{"mark":{"type":"line","color":"#8a8a8a","strokeWidth":2,"strokeDash":[0.5,3.5],"strokeCap":"round"}},
{"data":{"name":"base"},"transform":[{"filter":"datum.p==='SOH'"}],"mark":{"type":"rule","color":"#9a9a9a","strokeWidth":1.8},"encoding":{"x":{"datum":0},"x2":{"datum":30}}},
{"mark":{"type":"point","filled":true,"color":"#000000","size":20,"opacity":1}},
{"data":{"name":"reg"},"transform":[{"filter":"datum.p==='SOH'"}],"mark":{"type":"line","color":"#2f2fff","strokeWidth":2},"encoding":{"detail":{"field":"s","type":"nominal"}}},
{"data":{"name":"bp"},"transform":[{"filter":"datum.p==='SOH'"}],"mark":{"type":"point","shape":"circle","filled":false,"color":"#ff0000","strokeWidth":2.5,"size":110,"opacity":1}}
]}
]
}
]
}
]
}
